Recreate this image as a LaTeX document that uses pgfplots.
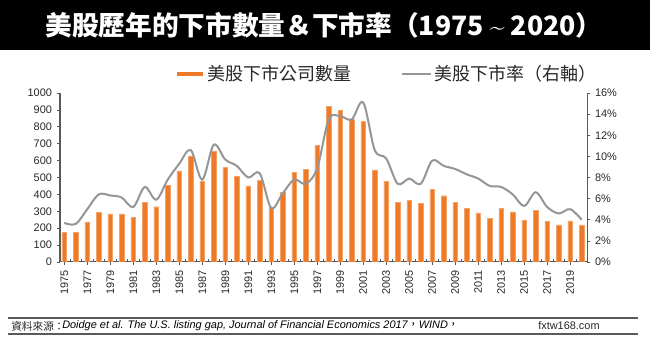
\documentclass[border=0pt]{standalone}
\usepackage{pgfplots}
\pgfplotsset{compat=1.18}
\usepackage{pgfplotstable}
\usepackage{fontspec}
\setmainfont{Liberation Sans}
\newfontfamily\cjk{Noto Sans CJK TC}
\definecolor{barorange}{RGB}{238,122,40}
\definecolor{linegray}{RGB}{150,150,150}
\definecolor{axgray}{RGB}{90,90,90}
\definecolor{txt}{RGB}{40,40,40}
\pgfplotstableread{
year count rate
1975 174 3.7
1976 174 3.6
1977 238 5.0
1978 295 6.4
1979 285 6.3
1980 285 6.1
1981 265 5.2
1982 352 7.1
1983 327 5.9
1984 453 7.8
1985 539 9.3
1986 628 10.6
1987 479 7.8
1988 658 11.1
1989 558 9.7
1990 507 9.1
1991 450 8.0
1992 483 8.4
1993 325 5.1
1994 412 6.5
1995 529 7.8
1996 548 7.4
1997 691 8.9
1998 921 13.5
1999 897 13.8
2000 844 13.5
2001 834 15.1
2002 545 10.6
2003 477 9.8
2004 352 7.4
2005 364 7.9
2006 347 7.4
2007 428 9.6
2008 392 9.1
2009 352 8.8
2010 319 8.3
2011 291 7.9
2012 257 7.2
2013 317 7.1
2014 297 6.4
2015 248 5.3
2016 305 6.6
2017 242 5.2
2018 220 4.6
2019 244 5.0
2020 220 4.0
}\datatable
\begin{document}
\begin{tikzpicture}[x=0.75pt,y=0.75pt]
\fill[white] (0,0) rectangle (650,342);
\fill[black] (0,292) rectangle (650,342);
\node[white,font=\cjk\bfseries\fontsize{20pt}{22pt}\selectfont] at (324,317) {美股歷年的下市數量＆下市率（1975 {\fontfamily{Liberation Sans}\selectfont\textasciitilde} 2020）};
\pgfplotsset{
  base/.style={
    scale only axis, width=395.25pt, height=126.75pt,
    at={(45pt,60pt)}, anchor=south west,
    xmin=1974.63, xmax=2020.46,
    /pgf/number format/1000 sep={},
    /pgf/number format/assume math mode=true,
    tick label style={font=\fontsize{8.2pt}{9pt}\selectfont, text=txt},
    axis line style={axgray, line width=0.75pt},
    major tick style={axgray, line width=0.5pt},
    tick align=outside, major tick length=2.5pt,
  }
}
\begin{axis}[base,
  axis x line*=bottom, axis y line*=left,
  ymin=0, ymax=1000, ytick={0,100,...,1000},
  xtick={1975,1977,...,2019},
  extra x ticks={1975.5,1976.5,...,2019.5},
  extra x tick labels={},
  extra x tick style={tick align=inside, major tick length=2pt},
  xticklabel style={rotate=90, anchor=east},
  legend style={at={(0.218,1.112)}, anchor=west, draw=none, fill=none, inner sep=0pt,
    font=\cjk\fontsize{13.5pt}{15pt}\selectfont, text=txt,
    /tikz/every even column/.append style={column sep=35pt}},
  legend columns=2,
]
\addplot[ybar, bar width=3.6pt, bar shift=0pt, fill=barorange, draw=barorange!70!white, line width=0.3pt, forget plot] table[x=year,y=count] {\datatable};
\addlegendimage{legend image code/.code={\draw[barorange, line width=3pt] (0pt,0pt) -- (19.5pt,0pt);}}
\addlegendentry{美股下市公司數量}
\addlegendimage{legend image code/.code={\draw[linegray, line width=1.2pt] (0pt,0pt) -- (22pt,0pt);}}
\addlegendentry{美股下市率（右軸）}
\end{axis}
\begin{axis}[base,
  axis x line=none, axis y line*=right,
  ymin=0, ymax=16, ytick={0,2,...,16},
  yticklabel={\pgfmathprintnumber{\tick}\%},
]
\addplot[linegray, line width=1.5pt, smooth, tension=0.55] table[x=year,y=rate] {\datatable};
\end{axis}
\draw[axgray, line width=1.1pt] (8,24) -- (638,24);
\draw[axgray, line width=1.1pt] (8,8) -- (638,8);
\node[anchor=west, inner sep=0pt, text=txt, font=\cjk\fontsize{8pt}{9pt}\selectfont] at (11,16) {資料來源：};
\node[anchor=west, inner sep=0pt, text=black, font=\itshape\fontsize{8.2pt}{9pt}\selectfont] at (62,16) {Doidge et al. The U.S. listing gap, Journal of Financial Economics 2017{\cjk ，}WIND{\cjk ，}};
\node[anchor=west, inner sep=0pt, text=txt, font=\fontsize{8.2pt}{9pt}\selectfont] at (538,16) {fxtw168.com};
\end{tikzpicture}
\end{document}
